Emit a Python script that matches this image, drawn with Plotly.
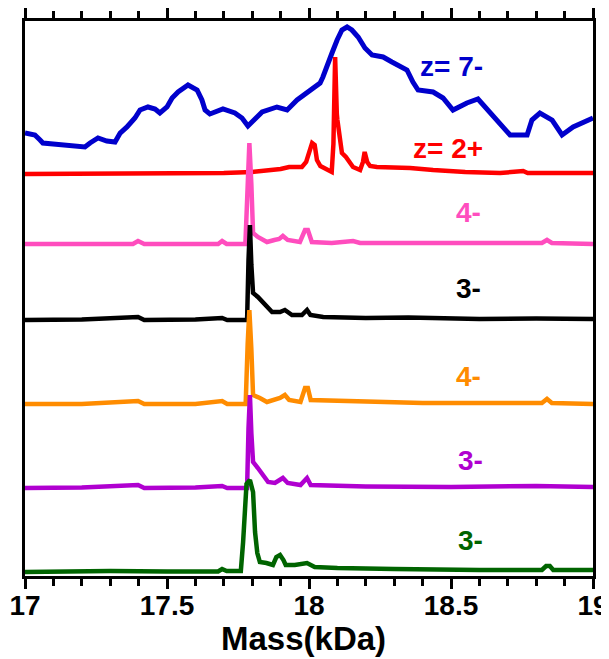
import plotly.graph_objects as go

# ---------------- data (mass in kDa, intensity in a.u. above each trace baseline) -------------
blue_mass = [17.0, 17.035, 17.053, 17.063, 17.099, 17.158, 17.211, 17.229, 17.257, 17.288, 17.317,
             17.335, 17.359, 17.387, 17.405, 17.433, 17.458, 17.475, 17.50, 17.518, 17.539, 17.574,
             17.606, 17.623, 17.634, 17.651, 17.687, 17.697, 17.739, 17.764, 17.785, 17.810, 17.835,
             17.887, 17.923, 17.958, 17.993, 18.039, 18.049, 18.063, 18.081, 18.099, 18.116, 18.134,
             18.151, 18.173, 18.197, 18.222, 18.261, 18.292, 18.327, 18.345, 18.366, 18.384, 18.437,
             18.472, 18.507, 18.556, 18.595, 18.620, 18.662, 18.708, 18.768, 18.785, 18.813, 18.856,
             18.891, 18.930, 19.0]
blue_int = [17, 15, 10, 7, 6, 4, 3, 7, 12, 9, 8,
            17, 23, 32, 40, 43, 41, 37, 43, 52, 58, 65,
            60, 50, 40, 36, 39, 41, 37, 32, 24, 31, 38,
            43, 40, 50, 58, 67, 73, 85, 97, 110, 120, 123,
            120, 113, 102, 95, 93, 88, 83, 80, 68, 60, 58,
            52, 40, 47, 51, 43, 30, 15, 15, 30, 37, 30,
            15, 23, 32]

red_mass = [17.0, 17.5, 17.7, 17.80, 17.85, 17.88, 17.90, 17.93, 17.975, 17.99, 18.005, 18.011, 18.02,
            18.028, 18.04, 18.056, 18.080, 18.086, 18.092, 18.098, 18.100, 18.116, 18.13, 18.155,
            18.18, 18.19, 18.196, 18.205, 18.215, 18.239, 18.30, 18.356, 18.437, 18.55, 18.673,
            18.754, 18.77, 19.0]
red_int = [0, 0.5, 1, 2, 3, 4, 5, 7, 7, 12, 28, 31, 29,
           14, 8, 6, 2, 30, 117, 60, 54, 21, 17, 7,
           4, 12, 22, 12, 8, 7, 7, 6, 4, 2, 1,
           3, 1, 1]

pink_mass = [17.0, 17.2, 17.38, 17.398, 17.42, 17.6, 17.68, 17.694, 17.71, 17.776, 17.783, 17.790,
             17.797, 17.803, 17.82, 17.852, 17.878, 17.895, 17.908, 17.925, 17.968, 17.982, 17.986,
             17.996, 18.004, 18.010, 18.08, 18.155, 18.18, 18.4, 18.6, 18.82, 18.838, 18.855, 19.0]
pink_int = [0, 0, 0, 3, 0, 0, 0, 3, 0, 0, 60, 101,
            60, 11, 7, 2, 4, 5, 8, 4, 2, 10, 14,
            14, 6, 2, 1, 3, 1, 0.5, 1, 1, 4, 1, 0]

black_mass = [17.0, 17.2, 17.398, 17.42, 17.6, 17.694, 17.712, 17.782, 17.787, 17.792, 17.797, 17.799,
              17.803, 17.82, 17.835, 17.852, 17.87, 17.898, 17.915, 17.94, 17.975, 17.993, 18.005,
              18.05, 18.20, 18.35, 18.6, 18.8, 19.0]
black_int = [0, 0.5, 3, 0, 0.5, 2, 0, 0, 60, 95, 55, 43,
             27, 23, 18, 13, 8, 8, 10, 5, 5, 10, 5,
             3, 2, 2.5, 1, 1.5, 1]

orange_mass = [17.0, 17.2, 17.398, 17.42, 17.6, 17.694, 17.712, 17.777, 17.784, 17.790, 17.797, 17.803,
               17.827, 17.852, 17.898, 17.915, 17.93, 17.97, 17.986, 17.996, 18.006, 18.155, 18.4,
               18.6, 18.82, 18.838, 18.855, 19.0]
orange_int = [0, 0, 3, 0, 0, 3, 0, 0, 60, 94, 55, 9,
              6, 2, 6, 9, 4, 2, 16, 16, 4, 3, 1,
              1, 1, 5, 1, 0]

purple_mass = [17.0, 17.2, 17.398, 17.42, 17.6, 17.694, 17.712, 17.782, 17.787, 17.792, 17.797, 17.799,
               17.803, 17.82, 17.838, 17.856, 17.88, 17.908, 17.925, 17.97, 17.993, 18.006, 18.2,
               18.5, 18.8, 19.0]
purple_int = [0, 0.5, 3, 0, 0.5, 2, 0, 0, 60, 93, 55, 41,
              26, 20, 13, 6, 5, 10, 5, 3, 10, 3, 1.5,
              1, 2, 1]

green_mass = [17.0, 17.3, 17.5, 17.680, 17.694, 17.71, 17.760, 17.768, 17.780, 17.792, 17.803, 17.810,
              17.818, 17.827, 17.85, 17.873, 17.885, 17.898, 17.91, 17.918, 17.95, 17.993, 18.02,
              18.10, 18.3, 18.5, 18.6, 18.82, 18.835, 18.848, 18.86, 19.0]
green_int = [0, 1, 0.5, 0.5, 3, 1, 1, 30, 88, 92, 80, 40,
             19, 10, 9, 7, 15, 17, 12, 7, 7, 9, 5,
             4, 3, 2, 2, 2, 6, 6, 2, 2]

labels = ["z= 7-", "z= 2+", "4-", "3-", "4-", "3-", "3-"]
tick_vals = [17, 17.5, 18, 18.5, 19]
tick_text = ["17", "17.5", "18", "18.5", "19"]
x_title = "Mass(kDa)"

# stacking offsets (a.u.) and label anchor positions
offsets = [426, 402, 332, 256, 172, 88, 4]
label_x = [18.50, 18.49, 18.56, 18.56, 18.56, 18.57, 18.57]
label_y = [510, 428, 364, 288, 200, 116, 36]
colors = ["#0000CC", "#FF0000", "#FF4DBE", "#000000", "#FF8C00", "#B000D0", "#006400"]
widths = [5, 4.5, 4.5, 4.5, 4.5, 4.5, 4.5]

series = [(blue_mass, blue_int), (red_mass, red_int), (pink_mass, pink_int), (black_mass, black_int),
          (orange_mass, orange_int), (purple_mass, purple_int), (green_mass, green_int)]

FONT = "Liberation Sans, Arial, sans-serif"

fig = go.Figure()
for (m, inten), off, col, w in zip(series, offsets, colors, widths):
    fig.add_trace(go.Scatter(x=m, y=[off + v for v in inten], mode="lines",
                             line=dict(color=col, width=w), showlegend=False, hoverinfo="skip"))

for t, x, y, col in zip(labels, label_x, label_y, colors):
    fig.add_annotation(x=x, y=y, text="<b>%s</b>" % t, showarrow=False,
                       font=dict(family=FONT, size=28, color=col), xanchor="center", yanchor="middle")

# axis title
fig.add_annotation(x=0.49, y=-0.113, xref="paper", yref="paper", text="<b>%s</b>" % x_title,
                   showarrow=False, font=dict(family=FONT, size=33, color="black"),
                   xanchor="center", yanchor="middle")

fig.update_layout(
    width=601, height=651,
    margin=dict(l=17, r=16, t=13, b=83, autoexpand=False),
    plot_bgcolor="white", paper_bgcolor="white",
    xaxis=dict(range=[17, 19], tickvals=tick_vals, ticktext=["<b>%s</b>" % s for s in tick_text],
               ticks="outside", ticklen=10, tickwidth=2.5, tickcolor="black",
               showline=True, linewidth=3, linecolor="black", mirror="allticks",
               showgrid=False, zeroline=False, automargin=False, ticklabelstandoff=-8,
               tickfont=dict(family=FONT, size=28, color="black"),
               minor=dict(dtick=0.1, tick0=17, ticks="outside", ticklen=7, tickwidth=2.5, tickcolor="black")),
    yaxis=dict(range=[0, 555], showline=True, linewidth=3, linecolor="black", mirror=True,
               showticklabels=False, ticks="", showgrid=False, zeroline=False, automargin=False),
)

fig.write_html("out.html")
